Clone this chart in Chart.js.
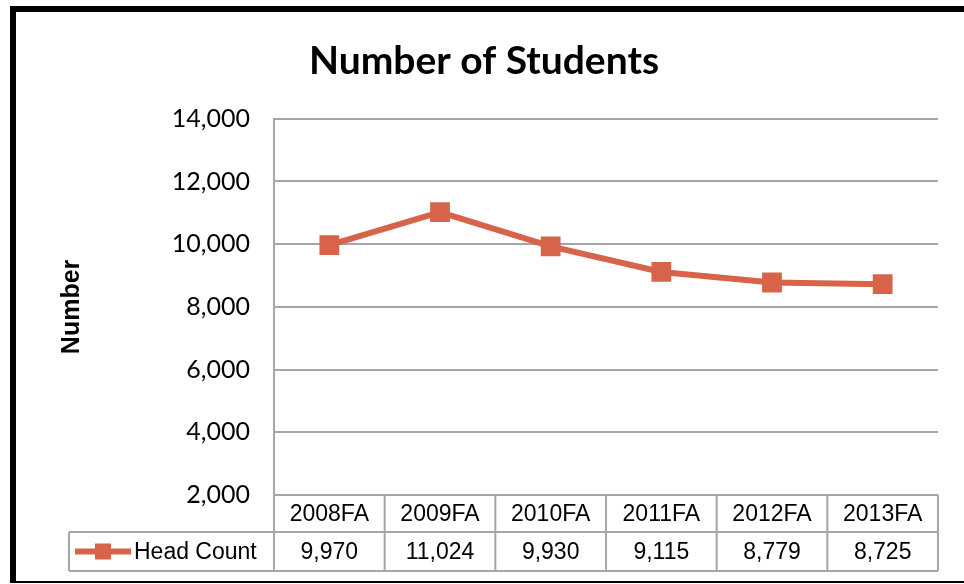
<!DOCTYPE html>
<html>
<head>
<meta charset="utf-8">
<script src="https://cdn.jsdelivr.net/npm/chart.js@4"></script>
<style>
  body { margin: 0; background: #fff; }
  canvas { display: block; }
</style>
</head>
<body>
<canvas id="chart" width="964" height="584"></canvas>
<script>
// data
const semesters = ['2008FA', '2009FA', '2010FA', '2011FA', '2012FA', '2013FA'];
const headCount = [9970, 11024, 9930, 9115, 8779, 8725];
const seriesName = 'Head Count';
const yMin = 2000, yMax = 14000, yStep = 2000;

const lineColor = '#D7644A';
const gridColor = '#A6A6A6';

// black frame round the whole chart
const framePlugin = {
    id: 'frame',
    beforeDraw(chart) {
        const ctx = chart.ctx;
        ctx.save();
        ctx.fillStyle = '#fff';
        ctx.fillRect(0, 0, chart.width, chart.height);
        ctx.fillStyle = '#000';
        ctx.fillRect(10, 6, chart.width - 10, 6);   // top
        ctx.fillRect(10, 6, 6, 577);                 // left
        ctx.fillRect(10, 581, chart.width - 10, 2);  // bottom
        ctx.restore();
    }
};

// data table under the plot (Excel style)
const tablePlugin = {
    id: 'dataTable',
    afterDraw(chart) {
        const ctx = chart.ctx;
        const xs = chart.scales.x;
        const area = chart.chartArea;
        const n = semesters.length;
        const centers = semesters.map((_, i) => xs.getPixelForValue(i));
        const bounds = [area.left];
        for (let i = 0; i < n - 1; i++) bounds.push((centers[i] + centers[i + 1]) / 2);
        bounds.push(area.right);

        const y0 = area.bottom;
        const y1 = y0 + 37;
        const y2 = xs.bottom;
        const legendLeft = 69;

        ctx.save();
        ctx.strokeStyle = gridColor;
        ctx.lineWidth = 2;
        ctx.beginPath();
        // horizontal lines
        ctx.moveTo(area.left, y0); ctx.lineTo(area.right, y0);
        ctx.moveTo(legendLeft, y1); ctx.lineTo(area.right, y1);
        ctx.moveTo(legendLeft, y2); ctx.lineTo(area.right, y2);
        // vertical lines
        bounds.forEach(b => { ctx.moveTo(b, y0); ctx.lineTo(b, y2); });
        ctx.moveTo(legendLeft, y1); ctx.lineTo(legendLeft, y2);
        ctx.stroke();

        ctx.fillStyle = '#000';
        ctx.font = '23px "Liberation Sans", Arial, sans-serif';
        ctx.textAlign = 'center';
        ctx.textBaseline = 'middle';
        centers.forEach((c, i) => {
            ctx.fillText(semesters[i], c, (y0 + y1) / 2 + 1);
            ctx.fillText(headCount[i].toLocaleString('en-US'), c, (y1 + y2) / 2 + 1);
        });

        // legend key
        const ky = (y1 + y2) / 2;
        ctx.strokeStyle = lineColor;
        ctx.lineWidth = 6;
        ctx.beginPath();
        ctx.moveTo(75, ky); ctx.lineTo(131, ky);
        ctx.stroke();
        ctx.fillStyle = lineColor;
        ctx.fillRect(103 - 8, ky - 8, 16, 16);

        ctx.fillStyle = '#000';
        ctx.textAlign = 'left';
        ctx.fillText(seriesName, 134, ky + 1);
        ctx.restore();
    }
};

new Chart(document.getElementById('chart'), {
    type: 'line',
    data: {
        labels: semesters,
        datasets: [{
            label: seriesName,
            data: headCount,
            borderColor: lineColor,
            backgroundColor: lineColor,
            borderWidth: 6,
            pointStyle: 'rect',
            pointRadius: 14,
            pointHoverRadius: 14,
            pointBorderWidth: 0,
            fill: false,
            tension: 0
        }]
    },
    options: {
        responsive: false,
        animation: false,
        devicePixelRatio: 1,
        layout: { padding: { left: 30, right: 26, top: 14, bottom: 13 } },
        plugins: {
            legend: { display: false },
            tooltip: { enabled: false },
            title: {
                display: true,
                text: 'Number of Students',
                color: '#000',
                font: { family: 'Lato, sans-serif', size: 39, weight: 'bold' },
                padding: { top: 24, bottom: 34 }
            }
        },
        scales: {
            x: {
                offset: true,
                grid: { display: false },
                border: { display: false },
                ticks: { display: false },
                afterFit(scale) { scale.height = 76; }
            },
            y: {
                min: yMin,
                max: yMax,
                ticks: {
                    stepSize: yStep,
                    color: '#000',
                    padding: 24,
                    font: { family: 'Lato, sans-serif', size: 25 }
                },
                grid: { color: gridColor, lineWidth: 2, drawTicks: false },
                border: { display: true, color: gridColor, width: 2 },
                title: {
                    display: true,
                    text: 'Number',
                    color: '#000',
                    font: { family: '"Liberation Sans", Arial, sans-serif', size: 25, weight: 'bold' },
                    padding: { top: 27, bottom: 0 }
                },
                afterFit(scale) { scale.width = 244; }
            }
        }
    },
    plugins: [framePlugin, tablePlugin]
});
</script>
</body>
</html>
